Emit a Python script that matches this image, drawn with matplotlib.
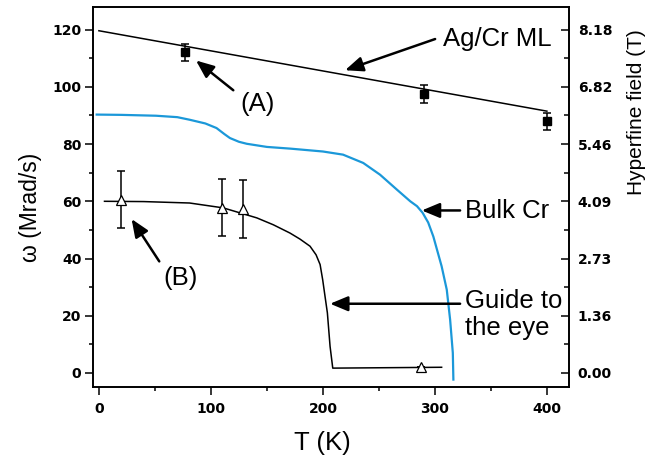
import matplotlib
matplotlib.use("Agg")
import matplotlib.pyplot as plt
from matplotlib.ticker import MultipleLocator

# Ag/Cr multilayer points (A) with linear fit
t_ml = [77, 290, 400]
w_ml = [112.0, 97.5, 88.0]
e_ml = [3, 3, 3]
t_fit = [0, 400]
w_fit = [119.6, 91.5]

# points (B), open triangles
t_tri = [20, 110, 129, 288]
w_tri = [60.5, 57.7, 57.3, 2.0]
e_tri = [10, 10, 10, 0]

# bulk Cr curve
t_bulk = [-2, 20, 51, 70, 81, 95, 105, 112, 117, 125, 132, 150, 171, 200, 218,
          236, 251, 266, 278, 284, 289, 294, 298.6, 306, 310.6, 313.6, 316, 316.5]
w_bulk = [90.3, 90.2, 89.9, 89.4, 88.5, 87.2, 85.6, 83.5, 82.1, 80.8, 80.1, 79.0,
          78.4, 77.4, 76.3, 73.4, 69.3, 64.1, 60.0, 58.3, 56.0, 52.6, 47.7, 37.3,
          29.1, 18.6, 7.0, -2.3]

# guide to the eye
t_guide = [5, 40, 81, 111, 141, 155.7, 170.6, 179.5, 188.5, 193.9, 197.5, 199.8,
           202, 204, 206.4, 208.8, 306]
w_guide = [60.0, 59.9, 59.4, 57.7, 54.2, 51.8, 48.9, 46.8, 44.3, 41.3, 37.9,
           32.6, 26.5, 21.0, 9.3, 1.7, 2.0]

right_ticks = [0, 20, 40, 60, 80, 100, 120]
right_labels = ["0.00", "1.36", "2.73", "4.09", "5.46", "6.82", "8.18"]

W, H = 667, 459
fig = plt.figure(figsize=(W / 100, H / 100), dpi=100)
ax = fig.add_axes([93.3 / W, 1 - 387.3 / H, 476 / W, 380.6 / H])

blue = "#1b98d9"
ax.plot(t_bulk, w_bulk, color=blue, lw=1.6, zorder=2)
ax.plot(t_guide, w_guide, color="black", lw=1.1, zorder=2)
ax.plot(t_fit, w_fit, color="black", lw=1.1, zorder=2)

ax.errorbar(t_ml, w_ml, yerr=e_ml, fmt="none", ecolor="black", elinewidth=1.1,
            capsize=3, capthick=1.1, zorder=3)
ax.plot(t_ml, w_ml, ls="none", marker="s", ms=6, color="black", zorder=4)

ax.errorbar(t_tri, w_tri, yerr=e_tri, fmt="none", ecolor="black", elinewidth=1.1,
            capsize=3, capthick=1.1, zorder=3)
ax.plot(t_tri, w_tri, ls="none", marker="^", ms=7, mfc="white", mec="black",
        mew=0.9, zorder=4)

ax.set_xlim(-5, 420)
ax.set_ylim(-5, 128)

tickfont = dict(family="DejaVu Sans", weight="bold", size=10)
ax.xaxis.set_major_locator(MultipleLocator(100))
ax.xaxis.set_minor_locator(MultipleLocator(50))
ax.yaxis.set_major_locator(MultipleLocator(20))
ax.yaxis.set_minor_locator(MultipleLocator(10))
ax.tick_params(which="both", direction="out", top=False, right=False, width=1.1)
ax.tick_params(which="major", length=5.5, pad=3)
ax.tick_params(which="minor", length=3)
ax.tick_params(axis="x", which="major", pad=5)
for lab in ax.get_xticklabels() + ax.get_yticklabels():
    lab.set_fontproperties(tickfont)
for sp in ax.spines.values():
    sp.set_linewidth(1.2)

ax2 = ax.twinx()
ax2.set_ylim(ax.get_ylim())
ax2.set_yticks(right_ticks)
ax2.set_yticklabels(right_labels)
ax2.yaxis.set_minor_locator(MultipleLocator(10))
ax2.tick_params(which="both", direction="in", width=1.1)
ax2.tick_params(which="major", length=5.5, pad=6)
ax2.tick_params(which="minor", length=3.5)
for lab in ax2.get_yticklabels():
    lab.set_fontproperties(tickfont)
for sp in ax2.spines.values():
    sp.set_linewidth(1.2)

lab_font = "Liberation Sans"
fig.text(30 / W, 1 - 207 / H, "ω (Mrad/s)", rotation=90, ha="center", va="center",
         fontsize=16.5, family=lab_font)
fig.text(322 / W, 1 - 443 / H, "T (K)", ha="center", va="center",
         fontsize=18.5, family=lab_font)
fig.text(636 / W, 1 - 112 / H, "Hyperfine field (T)", rotation=90, ha="center",
         va="center", fontsize=15, family=lab_font)

ann = dict(fontsize=18.5, family=lab_font, ha="left", va="baseline")
ax.text(307.3, 114.1, "Ag/Cr ML", **ann)
ax.text(126, 91.4, "(A)", **ann)
ax.text(327, 54.2, "Bulk Cr", **ann)
ax.text(327, 22.7, "Guide to", **ann)
ax.text(327, 13.4, "the eye", **ann)
ax.text(58, 30.9, "(B)", **ann)

arrow = dict(arrowstyle="-|>,head_length=0.6,head_width=0.25", mutation_scale=18,
             lw=1.8, color="black", shrinkA=0, shrinkB=0)
ax.annotate("", xy=(219.8, 105.8), xytext=(300.2, 116.7), arrowprops=arrow)
ax.annotate("", xy=(86.7, 109.2), xytext=(120, 98.8), arrowprops=arrow)
ax.annotate("", xy=(288.3, 56.8), xytext=(322.5, 56.8), arrowprops=arrow)
ax.annotate("", xy=(206.4, 24.2), xytext=(322.5, 24.2), arrowprops=arrow)
ax.annotate("", xy=(29.2, 53.8), xytext=(53.9, 39.0), arrowprops=arrow)

fig.savefig("out.png", dpi=100)
